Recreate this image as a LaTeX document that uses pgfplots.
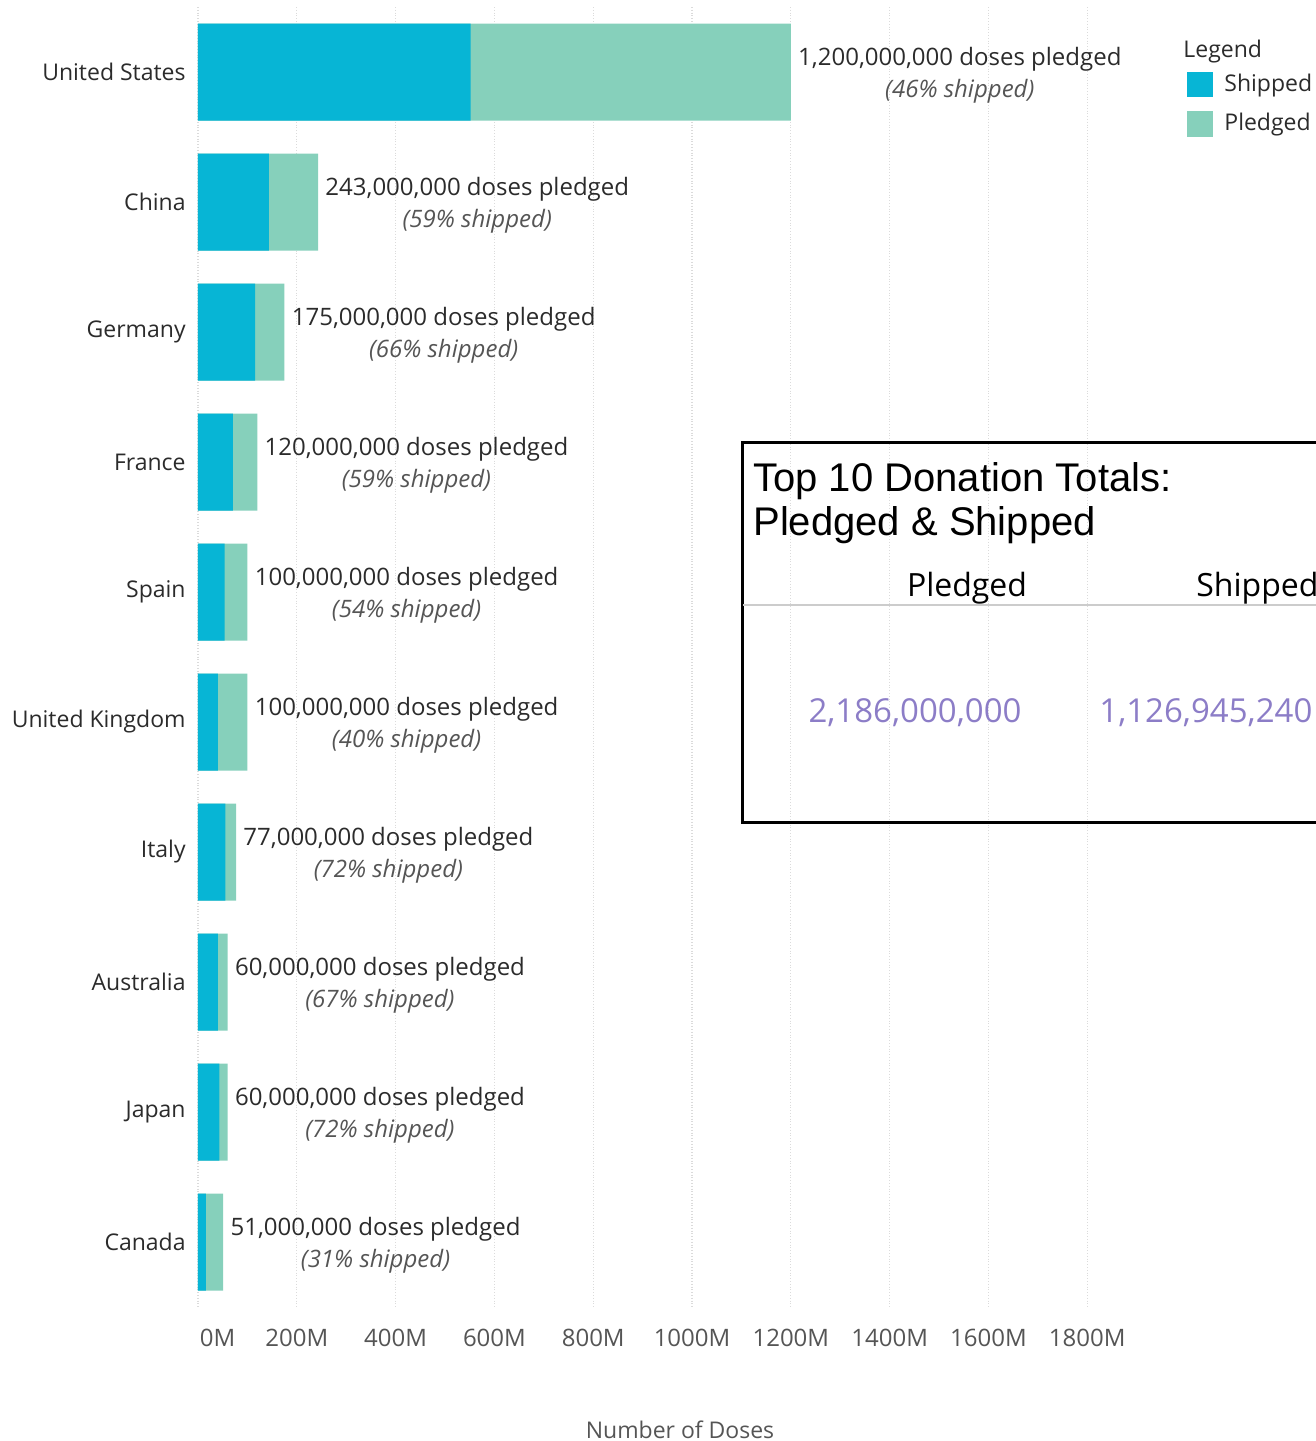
\documentclass[border=0pt]{standalone}
\usepackage{fontspec}
\setmainfont{Open Sans}
\newfontfamily\arialfont{Liberation Sans}
\usepackage{pgfplots}
\pgfplotsset{compat=1.18}
\usepackage{pgfplotstable}

\definecolor{shipped}{HTML}{07B5D5}
\definecolor{pledged}{HTML}{86D0BB}
\definecolor{txtdark}{HTML}{2B2B2B}
\definecolor{txtgray}{HTML}{555555}
\definecolor{totals}{HTML}{8C7DC7}

% bar label: pledged total on top, share shipped below
\protected\def\lab#1#2{#1 doses pledged\\{\itshape\color{txtgray}(#2\% shipped)}}

\pgfplotstableread{
idx pledged shipped lab
0 1200 552   {\lab{1,200,000,000}{46}}
1 243  143.4 {\lab{243,000,000}{59}}
2 175  115.5 {\lab{175,000,000}{66}}
3 120  70.8  {\lab{120,000,000}{59}}
4 100  54    {\lab{100,000,000}{54}}
5 100  40    {\lab{100,000,000}{40}}
6 77   55.4  {\lab{77,000,000}{72}}
7 60   40.2  {\lab{60,000,000}{67}}
8 60   43.2  {\lab{60,000,000}{72}}
9 51   15.8  {\lab{51,000,000}{31}}
}\donations

\begin{document}
\begin{tikzpicture}
\useasboundingbox (0,0) rectangle (658pt,720.5pt);
\clip (0,0) rectangle (658pt,720.5pt);

\begin{axis}[
  at={(99pt,67pt)}, anchor=south west,
  width=559pt, height=650pt, scale only axis,
  xmin=0, xmax=2263, ymin=-0.5, ymax=9.5, y dir=reverse,
  xbar, bar width=48.5pt,
  axis line style={draw=none}, major tick length=0pt,
  xmajorgrids, grid style={densely dotted, black!14, line width=0.6pt},
  xtick={0,200,...,1800},
  xticklabels={\hspace*{19.5pt}0M,200M,400M,600M,800M,1000M,1200M,1400M,1600M,1800M},
  xticklabel style={font=\fontsize{12}{14}\selectfont, text=txtgray, inner ysep=11pt},
  ytick={0,...,9},
  yticklabels={United States,China,Germany,France,Spain,United Kingdom,Italy,Australia,Japan,Canada},
  yticklabel style={font=\fontsize{11.5}{14}\selectfont, text=txtdark, inner xsep=6pt},
  every node near coord/.append style={anchor=west, align=center, yshift=-1.5pt,
    font=\fontsize{12}{16}\selectfont, text=txtdark, inner xsep=3.5pt},
]
\addplot[fill=pledged, draw=none, bar shift=0pt,
  nodes near coords, point meta=explicit symbolic]
  table[x=pledged, y=idx, meta=lab] {\donations};
\addplot[fill=shipped, draw=none, bar shift=0pt]
  table[x=shipped, y=idx] {\donations};
\end{axis}

% axis title
\node[anchor=base, font=\fontsize{11.5}{14}\selectfont, text=txtgray, inner sep=0pt]
  at (340pt,1.5pt) {Number of Doses};

% legend
\node[anchor=base west, font=\fontsize{11.5}{14}\selectfont, text=txtdark, inner sep=0pt]
  at (591.5pt,691.5pt) {Legend};
\fill[shipped] (593.5pt,672pt) rectangle (606.5pt,684.5pt);
\fill[pledged] (593.5pt,652pt) rectangle (606.5pt,665pt);
\node[anchor=base west, font=\fontsize{11.5}{14}\selectfont, text=txtdark, inner sep=0pt]
  at (612pt,674.5pt) {Shipped};
\node[anchor=base west, font=\fontsize{11.5}{14}\selectfont, text=txtdark, inner sep=0pt]
  at (612pt,655pt) {Pledged};

% totals box
\draw[line width=1.5pt, black] (371pt,309pt) rectangle (720pt,499pt);
\node[anchor=base west, align=left, inner sep=0pt,
  font=\arialfont\fontsize{20}{22}\selectfont]
  at (376.5pt,452.5pt) {Top 10 Donation Totals:\\Pledged \& Shipped};
\node[anchor=base, inner sep=0pt, font=\fontsize{16}{18}\selectfont, text=black]
  at (483.5pt,422.2pt) {Pledged};
\node[anchor=base west, inner sep=0pt, font=\fontsize{16}{18}\selectfont, text=black]
  at (598pt,422.2pt) {Shipped};
\draw[black!20, line width=1pt] (371.5pt,418pt) -- (658pt,418pt);
\node[anchor=base, inner sep=0pt, font=\fontsize{16.5}{18}\selectfont, text=totals]
  at (457.5pt,359.2pt) {2,186,000,000};
\node[anchor=base west, inner sep=0pt, font=\fontsize{16.5}{18}\selectfont, text=totals]
  at (549.5pt,359.2pt) {1,126,945,240};
\end{tikzpicture}
\end{document}
